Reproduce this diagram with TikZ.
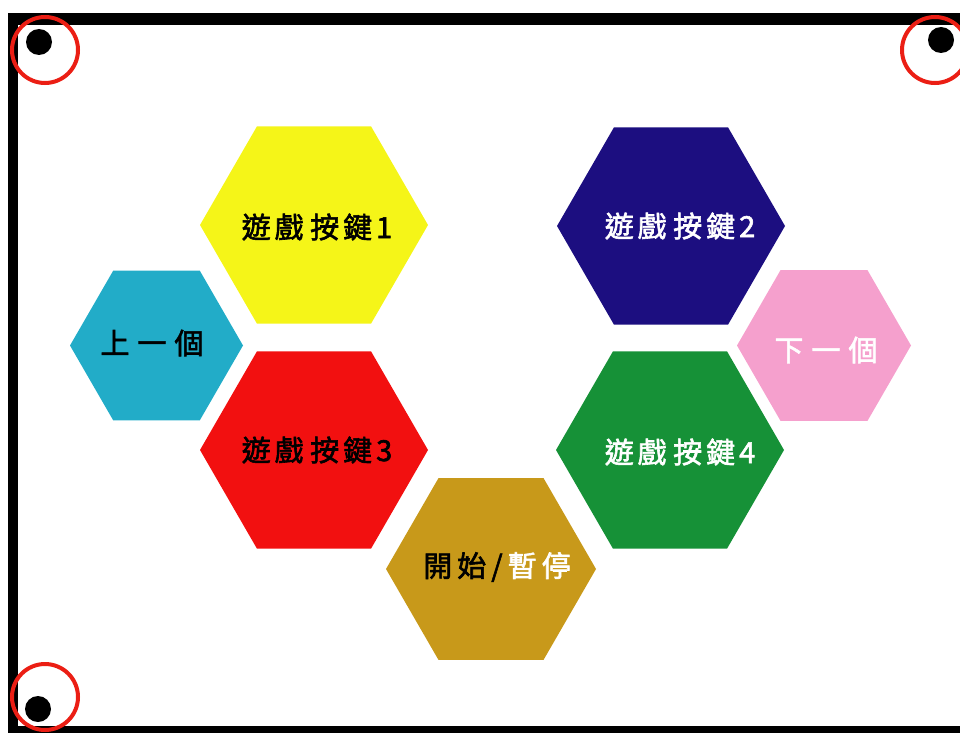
\documentclass[tikz,border=0pt]{standalone}
\usepackage{fontspec}
\newfontfamily\cjk[FakeBold=2]{Noto Sans CJK TC}
\definecolor{hyellow}{RGB}{245,245,24}
\definecolor{hnavy}{RGB}{28,14,128}
\definecolor{hcyan}{RGB}{34,172,200}
\definecolor{hred}{RGB}{242,16,16}
\definecolor{hgreen}{RGB}{22,145,55}
\definecolor{hpink}{RGB}{245,160,205}
\definecolor{hgold}{RGB}{200,153,26}
\definecolor{ringred}{RGB}{235,30,20}
\newcommand{\gp}{\hspace{4pt}}
\newcommand{\gw}{\hspace{8pt}}
\newcommand{\gm}{\hspace{5pt}}
\begin{document}
\begin{tikzpicture}[x=1pt,y=-1pt,
  lbl/.style={font=\cjk\fontsize{29}{29}\selectfont, inner sep=0pt},
  ring/.style={draw=ringred, line width=4pt},
  dot/.style={fill=black}]
\useasboundingbox (0,0) rectangle (960,733);
% frame
\fill[black] (8,13) rectangle (960,25);
\fill[black] (8,13) rectangle (18,733);
\fill[black] (8,726) rectangle (960,733);
% corner marks
\fill[dot] (39,42) circle (13);
\draw[ring] (45,50) circle (33);
\fill[dot] (941,40) circle (13);
\draw[ring] (935,50) circle (33);
\fill[dot] (38,709) circle (13);
\draw[ring] (45,697) circle (33);
% hexagons
\newcommand{\hexa}[4]{\fill[#1] (#2,#3) +(0:#4) -- +(60:#4) -- +(120:#4) -- +(180:#4) -- +(240:#4) -- +(300:#4) -- cycle;}
\hexa{hyellow}{314}{225}{114}
\hexa{hnavy}{671}{226}{114}
\hexa{hcyan}{156.5}{345.5}{86.5}
\hexa{hred}{314}{450}{114}
\hexa{hgreen}{670}{450}{114}
\hexa{hpink}{824}{345.5}{87}
\hexa{hgold}{491}{569}{105}
% labels
\node[lbl, text=black] (b1) at (317,227) {遊\gp{}戲 按\gp{}鍵\gp{}1};
\node[lbl, text=white] (b2) at (680,226) {遊\gp{}戲 按\gp{}鍵\gp{}2};
\node[lbl, text=black] (prev) at (152,343) {上\gw{}一\gw{}個};
\node[lbl, text=black] (b3) at (317,450) {遊\gp{}戲 按\gp{}鍵\gp{}3};
\node[lbl, text=white] (b4) at (680,452) {遊\gp{}戲 按\gp{}鍵\gp{}4};
\node[lbl, text=white] (next) at (826,350) {下\gw{}一\gw{}個};
\node[lbl] (start) at (497,567) {\textcolor{black}{開\gm{}始\gm{}/}\gm{}\textcolor{white}{暫\gm{}停}};
\end{tikzpicture}
\end{document}
